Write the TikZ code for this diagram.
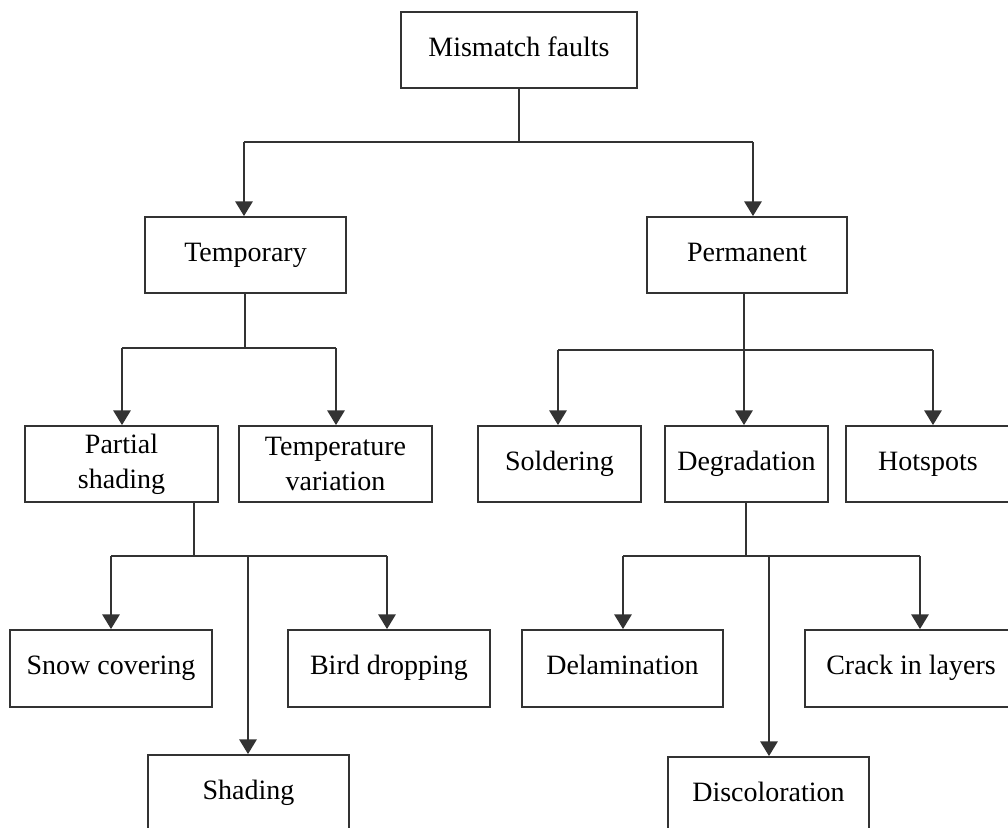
\documentclass[tikz,border=0pt]{standalone}
\usepackage{fontspec}
\setmainfont{Liberation Serif}
\usetikzlibrary{arrows.meta}
\begin{document}
\begin{tikzpicture}[x=0.75pt,y=-0.75pt,
  box/.style={draw=black!80,line width=1.4pt,rectangle,inner sep=0pt,
    minimum height=57pt,align=center,font=\fontsize{21}{26}\selectfont,text=black},
  one/.style={box,text height=14.7pt,text depth=5.25pt},
  conn/.style={draw=black!80,line width=1.4pt},
  arr/.style={conn,-{Triangle[width=13pt,length=11pt]}}]
\useasboundingbox (0,0) rectangle (1008,828);
\clip (0,0) rectangle (1008,828);
% nodes
\node[one,minimum width=177pt] (mf) at (519,50) {Mismatch faults};
\node[one,minimum width=150.75pt] (temp) at (245.5,255) {Temporary};
\node[one,minimum width=150pt] (perm) at (747,255) {Permanent};
\node[box,minimum width=144.75pt] (ps) at (121.5,464) {Partial\\shading};
\node[box,minimum width=144.75pt] (tv) at (335.5,464) {Temperature\\variation};
\node[one,minimum width=122.25pt] (sold) at (559.5,464) {Soldering};
\node[one,minimum width=122.25pt] (degr) at (746.5,464) {Degradation};
\node[one,minimum width=123pt] (hot) at (928,464) {Hotspots};
\node[one,minimum width=151.5pt,minimum height=57.75pt] (snow) at (111,668.5) {Snow covering};
\node[one,minimum width=151.5pt,minimum height=57.75pt] (bird) at (389,668.5) {Bird dropping};
\node[one,minimum width=150.75pt] (shad) at (248.5,793) {Shading};
\node[one,minimum width=150.75pt,minimum height=57.75pt] (delam) at (622.5,668.5) {Delamination};
\node[one,minimum width=159pt,minimum height=57.75pt] (crack) at (911,668.5) {Crack in layers};
\node[one,minimum width=150.75pt] (disc) at (768.5,795) {Discoloration};
% level 0
\coordinate (j0) at (519,142);
\coordinate (h0l) at (244,142);
\coordinate (h0r) at (753,142);
\draw[conn] (mf.south) -- (j0);
\draw[conn] (h0l) -- (h0r);
\draw[arr] (h0l) -- (h0l |- temp.north);
\draw[arr] (h0r) -- (h0r |- perm.north);
% temporary
\coordinate (j1) at (245,348);
\coordinate (h1l) at (122,348);
\coordinate (h1r) at (336,348);
\draw[conn] (temp.south -| j1) -- (j1);
\draw[conn] (h1l) -- (h1r);
\draw[arr] (h1l) -- (h1l |- ps.north);
\draw[arr] (h1r) -- (h1r |- tv.north);
% permanent
\coordinate (j2) at (744,350);
\coordinate (h2l) at (558,350);
\coordinate (h2r) at (933,350);
\draw[conn] (h2l) -- (h2r);
\draw[arr] (perm.south -| j2) -- (j2 |- degr.north);
\draw[arr] (h2l) -- (h2l |- sold.north);
\draw[arr] (h2r) -- (h2r |- hot.north);
% partial shading
\coordinate (j3) at (194,556);
\coordinate (h3l) at (111,556);
\coordinate (h3m) at (248,556);
\coordinate (h3r) at (387,556);
\draw[conn] (ps.south -| j3) -- (j3);
\draw[conn] (h3l) -- (h3r);
\draw[arr] (h3l) -- (h3l |- snow.north);
\draw[arr] (h3r) -- (h3r |- bird.north);
\draw[arr] (h3m) -- (h3m |- shad.north);
% degradation
\coordinate (j4) at (746,556);
\coordinate (h4l) at (623,556);
\coordinate (h4m) at (769,556);
\coordinate (h4r) at (920,556);
\draw[conn] (degr.south -| j4) -- (j4);
\draw[conn] (h4l) -- (h4r);
\draw[arr] (h4l) -- (h4l |- delam.north);
\draw[arr] (h4r) -- (h4r |- crack.north);
\draw[arr] (h4m) -- (h4m |- disc.north);
\end{tikzpicture}
\end{document}
